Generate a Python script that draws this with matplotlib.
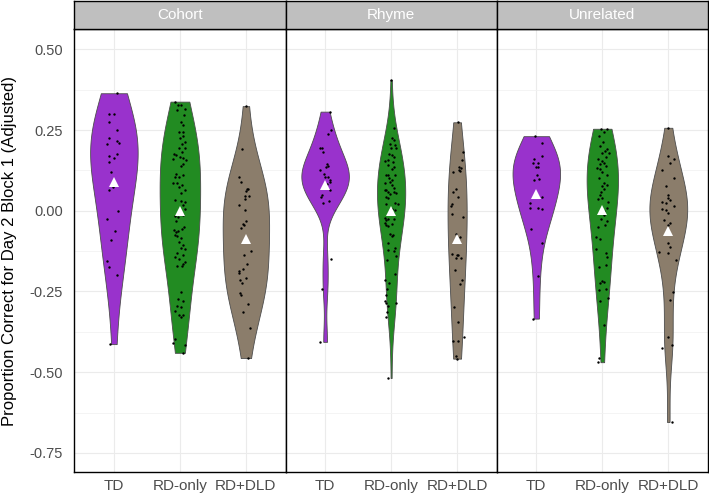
import numpy as np
import matplotlib
matplotlib.use("Agg")
import matplotlib.pyplot as plt

plt.rcParams['font.family'] = ['Liberation Sans', 'DejaVu Sans']

# facets and groups
panels = ['Cohort', 'Rhyme', 'Unrelated']
groups = ['TD', 'RD-only', 'RD+DLD']
colors = ['#9932CC', '#228B22', '#8B7D6B']

# values (proportion correct, adjusted), with the jitter offsets seen
cohort_td = [0.364, 0.299, 0.299, 0.276, 0.251, 0.224, 0.216, 0.211, 0.207, 0.176,
             0.170, 0.162, 0.152, 0.119, 0.074, 0.063, 0.000, -0.027, -0.062, -0.092,
             -0.155, -0.174, -0.198, -0.413]
cohort_td_jit = [0.05, -0.08, 0.00, -0.08, 0.04, -0.08, 0.05, 0.08, -0.11, 0.05,
                 -0.07, 0.00, -0.08, -0.04, -0.02, -0.08, 0.06, -0.11, 0.02, -0.04,
                 -0.11, -0.07, 0.04, -0.06]

cohort_rd = [0.338, 0.327, 0.329, 0.315, 0.311, 0.296, 0.274, 0.265, 0.245, 0.243,
             0.232, 0.224, 0.214, 0.207, 0.195, 0.193, 0.183, 0.176, 0.172, 0.168,
             0.162, 0.160, 0.156, 0.145, 0.139, 0.114, 0.110, 0.106, 0.104, 0.087,
             0.087, 0.081, 0.073, 0.065, 0.055, 0.034, 0.030, 0.026, 0.017, 0.005,
             -0.014, -0.016, -0.020, -0.032, -0.049, -0.055, -0.059, -0.063, -0.066, -0.074,
             -0.078, -0.084, -0.097, -0.105, -0.115, -0.119, -0.130, -0.136, -0.144, -0.150,
             -0.158, -0.164, -0.171, -0.171, -0.251, -0.272, -0.280, -0.295, -0.299, -0.311,
             -0.324, -0.324, -0.328, -0.398, -0.409, -0.417, -0.440]
cohort_rd_jit = [-0.07, -0.03, 0.01, 0.08, -0.05, 0.06, 0.01, 0.05, -0.02, 0.04,
                 0.05, 0.00, 0.07, 0.03, 0.08, -0.01, 0.03, -0.09, -0.06, 0.00,
                 0.05, -0.10, 0.09, 0.04, 0.01, -0.06, 0.05, -0.01, -0.08, -0.10,
                 -0.05, 0.03, -0.02, 0.07, 0.01, -0.07, 0.01, 0.08, 0.04, 0.07,
                 0.05, -0.08, -0.03, -0.06, 0.06, 0.03, -0.09, -0.03, -0.06, -0.08,
                 -0.05, 0.01, -0.01, 0.04, 0.02, 0.07, -0.04, 0.05, -0.07, -0.01,
                 0.07, 0.05, -0.05, 0.03, 0.02, -0.03, 0.04, -0.05, 0.02, -0.07,
                 -0.02, 0.05, 0.01, -0.07, -0.10, 0.08, 0.05]

cohort_dld = [0.324, 0.190, 0.105, 0.089, 0.066, 0.068, 0.062, 0.045, 0.045, 0.035,
              0.019, 0.002, -0.033, -0.041, -0.043, -0.054, -0.124, -0.136, -0.165, -0.180,
              -0.186, -0.194, -0.209, -0.213, -0.225, -0.254, -0.262, -0.289, -0.312, -0.364,
              -0.456]
cohort_dld_jit = [0.00, -0.06, -0.10, -0.07, 0.01, 0.03, 0.00, -0.02, 0.04, -0.01,
                  -0.10, -0.02, 0.00, -0.05, -0.03, -0.08, 0.08, -0.03, 0.02, -0.04,
                  -0.10, -0.10, 0.00, -0.09, -0.06, -0.09, -0.07, 0.03, -0.05, 0.06,
                  0.03]

rhyme_td = [0.307, 0.250, 0.239, 0.195, 0.193, 0.183, 0.146, 0.139, 0.137, 0.127,
            0.115, 0.106, 0.104, 0.094, 0.088, 0.084, 0.065, 0.048, 0.042, 0.031,
            0.024, -0.148, -0.241, -0.406]
rhyme_td_jit = [0.07, 0.09, 0.04, -0.07, -0.05, -0.03, 0.03, 0.05, 0.02, -0.07,
                -0.01, 0.00, 0.04, 0.07, 0.08, 0.03, 0.08, -0.05, -0.06, 0.06,
                -0.03, 0.09, -0.04, -0.08]

rhyme_rd = [0.405, 0.257, 0.224, 0.218, 0.206, 0.203, 0.195, 0.195, 0.177, 0.172,
            0.168, 0.154, 0.156, 0.150, 0.141, 0.135, 0.129, 0.112, 0.110, 0.110,
            0.102, 0.096, 0.090, 0.086, 0.079, 0.069, 0.065, 0.063, 0.059, 0.057,
            0.055, 0.051, 0.044, 0.040, 0.024, 0.022, 0.022, 0.007, 0.003, -0.003,
            -0.007, -0.022, -0.024, -0.026, -0.030, -0.038, -0.042, -0.044, -0.048, -0.071,
            -0.075, -0.079, -0.100, -0.115, -0.123, -0.125, -0.140, -0.152, -0.195, -0.215,
            -0.224, -0.241, -0.261, -0.280, -0.285, -0.286, -0.294, -0.313, -0.330, -0.518]
rhyme_rd_jit = [0.00, 0.04, 0.01, 0.04, -0.02, 0.06, 0.00, 0.07, -0.03, 0.02,
                0.05, -0.10, -0.05, 0.03, -0.05, 0.04, 0.02, -0.07, -0.04, 0.06,
                -0.03, 0.02, -0.02, -0.09, 0.01, 0.04, -0.10, -0.08, -0.05, 0.04,
                0.07, -0.02, -0.08, -0.04, 0.06, 0.10, -0.07, 0.01, 0.06, -0.03,
                0.03, -0.10, -0.04, 0.05, -0.07, -0.10, 0.02, -0.07, -0.05, -0.02,
                0.03, 0.01, -0.04, 0.06, -0.04, 0.05, 0.08, -0.06, 0.06, -0.10,
                -0.03, -0.06, -0.07, -0.10, 0.07, -0.08, -0.05, -0.06, -0.08, -0.05]

rhyme_dld = [0.274, 0.181, 0.158, 0.137, 0.131, 0.125, 0.123, 0.119, 0.067, 0.057,
             0.044, 0.020, 0.015, -0.011, -0.018, -0.073, -0.082, -0.133, -0.137, -0.137,
             -0.146, -0.146, -0.183, -0.214, -0.226, -0.299, -0.346, -0.392, -0.404, -0.402,
             -0.451, -0.458]
rhyme_dld_jit = [0.02, 0.09, 0.07, 0.03, 0.06, 0.03, 0.05, -0.06, -0.02, -0.06,
                 0.02, -0.08, -0.09, -0.08, 0.09, -0.02, 0.05, -0.08, 0.00, 0.02,
                 -0.02, 0.06, -0.03, 0.08, 0.05, -0.04, 0.02, 0.10, -0.06, 0.02,
                 -0.02, 0.00]

unrel_td = [0.231, 0.209, 0.171, 0.159, 0.149, 0.147, 0.136, 0.134, 0.110, 0.099,
            0.095, 0.043, 0.023, 0.008, 0.008, 0.006, -0.058, -0.101, -0.202, -0.334]
unrel_td_jit = [-0.02, 0.09, 0.08, -0.03, 0.03, -0.05, -0.01, 0.02, 0.01, 0.04,
                -0.03, 0.08, -0.09, -0.09, 0.03, 0.08, -0.08, 0.08, 0.03, -0.05]

unrel_rd = [0.254, 0.254, 0.244, 0.233, 0.213, 0.202, 0.190, 0.186, 0.180, 0.178,
            0.167, 0.161, 0.153, 0.149, 0.145, 0.138, 0.132, 0.130, 0.120, 0.110,
            0.101, 0.085, 0.081, 0.077, 0.068, 0.058, 0.050, 0.041, 0.035, 0.027,
            0.008, 0.000, -0.006, -0.014, -0.025, -0.033, -0.043, -0.051, -0.080, -0.089,
            -0.118, -0.130, -0.143, -0.169, -0.173, -0.219, -0.221, -0.225, -0.242, -0.244,
            -0.269, -0.281, -0.355, -0.456, -0.469]
unrel_rd_jit = [-0.02, 0.07, 0.03, -0.05, 0.01, -0.03, 0.07, 0.04, -0.01, 0.10,
                0.05, -0.07, 0.00, 0.03, -0.03, 0.05, -0.08, -0.04, 0.00, 0.07,
                -0.05, 0.03, 0.07, 0.00, 0.03, -0.02, -0.04, -0.01, -0.06, 0.09,
                0.07, 0.03, -0.05, 0.02, -0.02, 0.07, 0.04, -0.06, -0.10, -0.03,
                -0.09, 0.05, 0.07, 0.05, -0.05, 0.00, 0.03, -0.04, 0.05, -0.05,
                0.08, -0.03, 0.02, -0.05, -0.06]

unrel_dld = [0.257, 0.170, 0.159, 0.149, 0.126, 0.100, 0.077, 0.049, 0.041, 0.033,
             0.028, 0.023, 0.015, 0.004, 0.002, -0.008, -0.029, -0.037, -0.045, -0.070,
             -0.101, -0.112, -0.127, -0.130, -0.151, -0.251, -0.277, -0.392, -0.415, -0.425,
             -0.654]
unrel_dld_jit = [0.00, 0.00, 0.09, 0.03, -0.09, 0.09, -0.03, 0.00, -0.01, 0.03,
                 -0.09, -0.03, 0.09, -0.09, -0.03, 0.00, -0.06, 0.03, 0.00, -0.03,
                 0.00, 0.03, -0.14, 0.00, 0.11, 0.07, 0.02, 0.00, 0.05, -0.10,
                 0.06]

data = {
    'Cohort': [(cohort_td, cohort_td_jit), (cohort_rd, cohort_rd_jit), (cohort_dld, cohort_dld_jit)],
    'Rhyme': [(rhyme_td, rhyme_td_jit), (rhyme_rd, rhyme_rd_jit), (rhyme_dld, rhyme_dld_jit)],
    'Unrelated': [(unrel_td, unrel_td_jit), (unrel_rd, unrel_rd_jit), (unrel_dld, unrel_dld_jit)],
}

yticks = [-0.75, -0.50, -0.25, 0.00, 0.25, 0.50]
ylim = (-0.81, 0.562)
vwidth = 0.72
bw_adjust = 1.45


def nrd0(x):
    # R's default bandwidth
    sd = np.std(x, ddof=1)
    q75, q25 = np.percentile(x, [75, 25])
    lo = min(sd, (q75 - q25) / 1.34)
    if lo <= 0:
        lo = sd
    return 0.9 * lo * len(x) ** -0.2


def density(x):
    x = np.asarray(x)
    bw = nrd0(x) * bw_adjust
    grid = np.linspace(x.min(), x.max(), 512)
    d = np.exp(-0.5 * ((grid[:, None] - x[None, :]) / bw) ** 2).sum(axis=1)
    d = d / (len(x) * bw * np.sqrt(2 * np.pi))
    return grid, d


W, H = 709, 496
fig = plt.figure(figsize=(W / 100, H / 100), dpi=100)

left0 = 74.3
pw = 211.2
pbot = 23.7
ph = 443.0
strip_h = 28.0

for i, name in enumerate(panels):
    ax = fig.add_axes([(left0 + i * pw) / W, pbot / H, pw / W, ph / H])
    sax = fig.add_axes([(left0 + i * pw) / W, (pbot + ph) / H, pw / W, strip_h / H])

    dens = [density(v) for v, _ in data[name]]
    maxd = max(d.max() for _, d in dens)

    for j, ((vals, jit), (grid, d)) in enumerate(zip(data[name], dens)):
        pos = j + 1
        hw = vwidth / 2 * d / maxd
        ax.fill_betweenx(grid, pos - hw, pos + hw, facecolor=colors[j],
                         edgecolor='#4D4D4D', linewidth=0.6, zorder=2)
        ax.scatter(pos + np.asarray(jit), vals, s=3, color='black',
                   linewidths=0, zorder=3)
        ax.plot(pos, np.mean(vals), marker='^', color='white', markersize=7,
                markeredgewidth=0, zorder=4)

    ax.set_xlim(0.4, 3.6)
    ax.set_ylim(*ylim)
    ax.set_xticks([1, 2, 3])
    ax.set_xticklabels(groups)
    ax.set_yticks(yticks)
    ax.set_yticks([-0.625, -0.375, -0.125, 0.125, 0.375], minor=True)
    ax.grid(True, which='major', color='#EBEBEB', linewidth=0.8, zorder=0)
    ax.grid(True, which='minor', axis='y', color='#F2F2F2', linewidth=0.6, zorder=0)
    ax.set_axisbelow(True)
    ax.tick_params(axis='both', which='both', length=0, colors='#4D4D4D')
    ax.tick_params(axis='x', labelsize=11, pad=5)
    ax.tick_params(axis='y', labelsize=10.5, pad=8)
    if i == 0:
        ax.set_yticklabels(['%.2f' % t for t in yticks])
    else:
        ax.set_yticklabels([])
    for sp in ax.spines.values():
        sp.set_color('black')
        sp.set_linewidth(1.0)

    sax.set_facecolor('#BFBFBF')
    sax.set_xticks([])
    sax.set_yticks([])
    for sp in sax.spines.values():
        sp.set_color('black')
        sp.set_linewidth(1.0)
    sax.text(0.5, 0.5, name, color='white', fontsize=11, ha='center',
             va='center', transform=sax.transAxes)

fig.text(10 / W, (pbot + ph / 2) / H, 'Proportion Correct for Day 2 Block 1 (Adjusted)',
         rotation=90, ha='center', va='center', fontsize=12, color='black')

fig.savefig('out.png', dpi=100)
